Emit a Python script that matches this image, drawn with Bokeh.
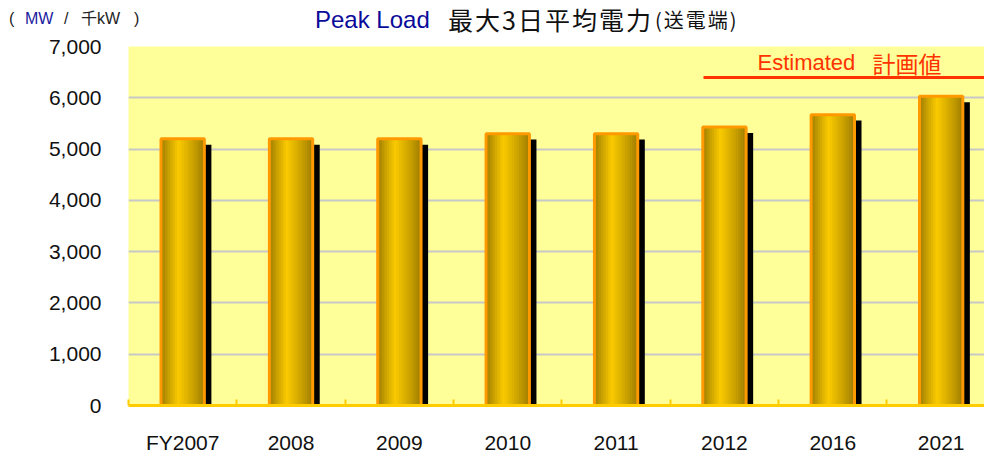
from bokeh.plotting import figure
from bokeh.layouts import column
from bokeh.models import ColumnDataSource, Range1d, FixedTicker, Label, Arrow, Div
from bokeh.transform import dodge
from bokeh.embed import file_html
from bokeh.resources import INLINE

# ---- data ----
categories = ["FY2007", "2008", "2009", "2010", "2011", "2012", "2016", "2021"]
peak_load = [5200, 5200, 5200, 5300, 5300, 5430, 5670, 6030]
y_ticks = [0, 1000, 2000, 3000, 4000, 5000, 6000, 7000]
y_tick_labels = ["0", "1,000", "2,000", "3,000", "4,000", "5,000", "6,000", "7,000"]

# ---- layout constants ----
W = 984
TOP_H = 34
H = 456 - TOP_H
BL, BR, BT, BB = 128, 0, 12, 51
BAR_W = 0.40
SHADOW_DX = 0.065
SHADOW_DROP = 115

# ================= header (titles) =================
LATIN = "'Liberation Sans', 'Noto Sans CJK JP', sans-serif"
CJK = "'Noto Sans CJK JP', 'Liberation Sans', sans-serif"

def hspan(text, left, cy, size, color, font=LATIN, k=0.6, spacing=0):
    top = cy - k * size
    return ('<span style="position:absolute;left:%spx;top:%.1fpx;font-family:%s;'
            'font-size:%spx;line-height:1.2;color:%s;white-space:nowrap;'
            'letter-spacing:%spx">%s</span>' % (left, top, font, size, color, spacing, text))

pieces = [
    hspan("(", 9, 19, 16, "#222222"),
    hspan("MW", 25, 19, 16, "#1a1aa0"),
    hspan("/", 64, 19, 16, "#222222"),
    hspan("千kW", 81, 19, 16, "#222222"),
    hspan(")", 134, 19, 16, "#222222"),
    hspan("Peak Load", 315, 20.5, 24, "#0a0a9a"),
    hspan("最大3日平均電力", 448, 20, 25, "#111111", CJK, 0.66, 2),
    hspan("(送電端)", 655, 21, 20, "#111111", CJK, 0.66, 2),
]
header = Div(text='<div style="position:relative;width:%dpx;height:%dpx;">%s</div>'
             % (W, TOP_H, "".join(pieces)),
             width=W, height=TOP_H, margin=(0, 0, 0, 0))

# ================= main chart =================
xs = [i + 0.5 for i in range(len(categories))]
src = ColumnDataSource(dict(
    x=xs,
    value=peak_load,
    shadow_top=[v - SHADOW_DROP for v in peak_load],
))

p = figure(width=W, height=H, output_backend="svg", toolbar_location=None,
           x_range=Range1d(0, 7.9), y_range=Range1d(0, 7000),
           min_border_left=BL, min_border_right=BR,
           min_border_top=BT, min_border_bottom=BB,
           background_fill_color="#FFFF99", border_fill_color="white")
p.outline_line_color = None

# grid
p.xgrid.visible = False
p.ygrid.grid_line_color = "#C8C8C8"
p.ygrid.grid_line_width = 2
p.ygrid.ticker = FixedTicker(ticks=y_ticks)

# y axis
ya = p.yaxis[0]
ya.ticker = FixedTicker(ticks=y_ticks)
ya.major_label_overrides = {t: l for t, l in zip(y_ticks, y_tick_labels)}
ya.axis_line_color = None
ya.major_tick_line_color = None
ya.minor_tick_line_color = None
ya.major_tick_out = 0
ya.major_tick_in = 0
ya.minor_tick_out = 0
ya.major_label_standoff = 27
ya.major_label_text_font = "Liberation Sans"
ya.major_label_text_font_size = "21px"
ya.major_label_text_color = "#111111"

# x axis
xa = p.xaxis[0]
xa.ticker = FixedTicker(ticks=xs, minor_ticks=list(range(len(categories) + 1)))
xa.major_label_overrides = {x: c for x, c in zip(xs, categories)}
xa.axis_line_color = "#FFCC00"
xa.axis_line_width = 3
xa.major_tick_line_color = None
xa.major_tick_out = 0
xa.major_tick_in = 0
xa.minor_tick_line_color = "#FFCC00"
xa.minor_tick_line_width = 2
xa.minor_tick_in = 6
xa.minor_tick_out = 0
xa.major_label_standoff = 25
xa.major_label_text_font = "Liberation Sans"
xa.major_label_text_font_size = "21px"
xa.major_label_text_color = "#111111"

# shadow
p.vbar(x=dodge("x", SHADOW_DX), top="shadow_top", bottom=0, width=BAR_W,
       source=src, fill_color="black", line_color=None)

# gradient strips
N = 18
dark_l = (148, 116, 0)
dark_r = (158, 124, 0)
bright = (250, 202, 0)
peak = 0.42
def strip_color(t):
    if t <= peak:
        f = t / peak
        a, b = dark_l, bright
    else:
        f = (1 - t) / (1 - peak)
        a, b = dark_r, bright
    f = f ** 0.85
    c = [int(round(a[i] + (b[i] - a[i]) * f)) for i in range(3)]
    return "#%02x%02x%02x" % tuple(c)

sw = BAR_W / N
for k in range(N):
    off = -BAR_W / 2 + (k + 0.5) * sw
    t = (k + 0.5) / N
    p.vbar(x=dodge("x", off), top="value", bottom=0, width=sw * 1.6,
           source=src, fill_color=strip_color(t), line_color=None)

# outline
p.vbar(x="x", top="value", bottom=0, width=BAR_W, source=src,
       fill_color=None, line_color="#FF9900", line_width=3)

# ---- estimated annotation (screen units relative to frame) ----
FL, FB = 128, 405  # page coordinates of frame left / bottom
def sx(px):
    return px - FL
def sy(py):
    return FB - py

def lab(text, px, py, size, color, font="Liberation Sans"):
    p.add_layout(Label(x=sx(px), y=sy(py), x_units="screen", y_units="screen",
                       text=text, text_font=font, text_font_size=size,
                       text_color=color, text_baseline="middle", text_align="left"))

lab("Estimated", 757, 62, "22px", "#FF3300")
lab("計画値", 872, 62, "23px", "#FF3300", "Noto Sans CJK JP")
p.add_layout(Arrow(end=None, x_start=sx(703), y_start=sy(77), x_end=sx(990), y_end=sy(77),
                   start_units="screen", end_units="screen",
                   line_color="#FF3300", line_width=3))

layout = column(header, p, spacing=0)
open("out.html", "w").write(file_html(layout, INLINE))
